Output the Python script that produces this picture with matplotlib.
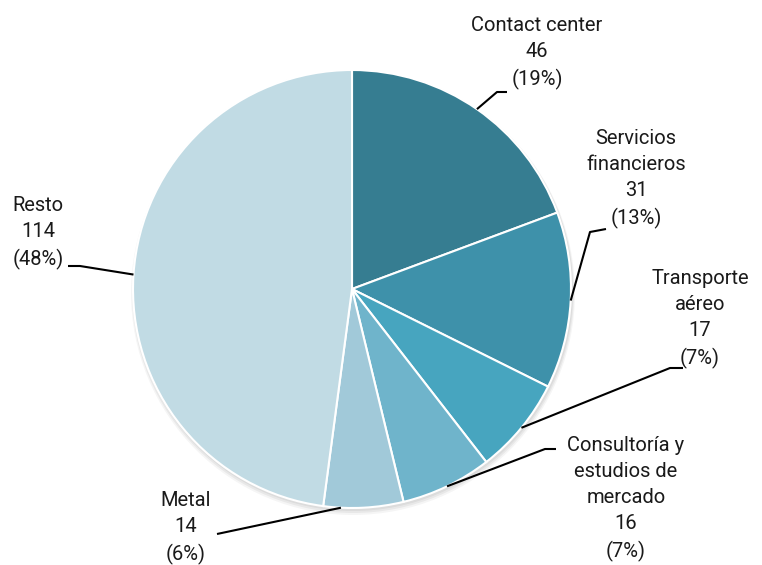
import numpy as np
import matplotlib.pyplot as plt

# data
sectors = ['Contact center', 'Servicios\nfinancieros', 'Transporte\naéreo',
           'Consultoría y\nestudios de\nmercado', 'Metal', 'Resto']
values = [46, 31, 17, 16, 14, 114]
colors = ['#367d91', '#3e91aa', '#47a5bf', '#6fb4cb', '#a1c9d9', '#c1dbe4']

W, H = 762, 565
fig = plt.figure(figsize=(W / 100, H / 100), dpi=100)
ax = fig.add_axes([0, 0, 1, 1])

cx, cy, R = 352, H - 289, 219

# faint shadow under the pie
for k, a in enumerate([0.05, 0.05, 0.04]):
    ax.add_patch(plt.Circle((cx + 1, cy - 2 - k), R + 1 + k, color='black', alpha=a, lw=0, zorder=0))

wedges, _ = ax.pie(values, colors=colors, startangle=90, counterclock=False,
                   center=(cx, cy), radius=R, frame=True,
                   wedgeprops=dict(edgecolor='white', linewidth=1.5))
ax.set_xlim(0, W)
ax.set_ylim(0, H)
ax.set_aspect('equal')
ax.axis('off')

total = sum(values)
# label center (px from top), leader elbow and end (px from top), point along wedge
layout = [
    ((537, 53), (497, 92), (507, 92), 0.5),
    ((636, 179), (590, 232), (606, 229), 0.5),
    ((700, 319), (670, 368), (683, 368), 0.5),
    ((626, 499), (545, 449), (556, 449), 0.5),
    ((186, 528), None, (217, 534), 0.22),
    ((38, 233), (80, 266), (68, 266), 0.5),
]

for w, name, v, (tpos, elbow, end, frac) in zip(wedges, sectors, values, layout):
    ang = np.deg2rad(w.theta1 + (w.theta2 - w.theta1) * frac)
    xs = [cx + R * np.cos(ang)]
    ys = [cy + R * np.sin(ang)]
    if elbow is not None:
        xs.append(elbow[0])
        ys.append(H - elbow[1])
    xs.append(end[0])
    ys.append(H - end[1])
    ax.plot(xs, ys, color='black', lw=1.5, solid_capstyle='butt', zorder=5)
    pct = round(100 * v / total)
    ax.text(tpos[0], H - tpos[1], f'{name}\n{v}\n({pct}%)', ha='center', va='center',
            fontsize=14.5, family=['Roboto', 'DejaVu Sans'], color='#1a1a1a',
            linespacing=1.48)

fig.savefig('out.png', dpi=100)
